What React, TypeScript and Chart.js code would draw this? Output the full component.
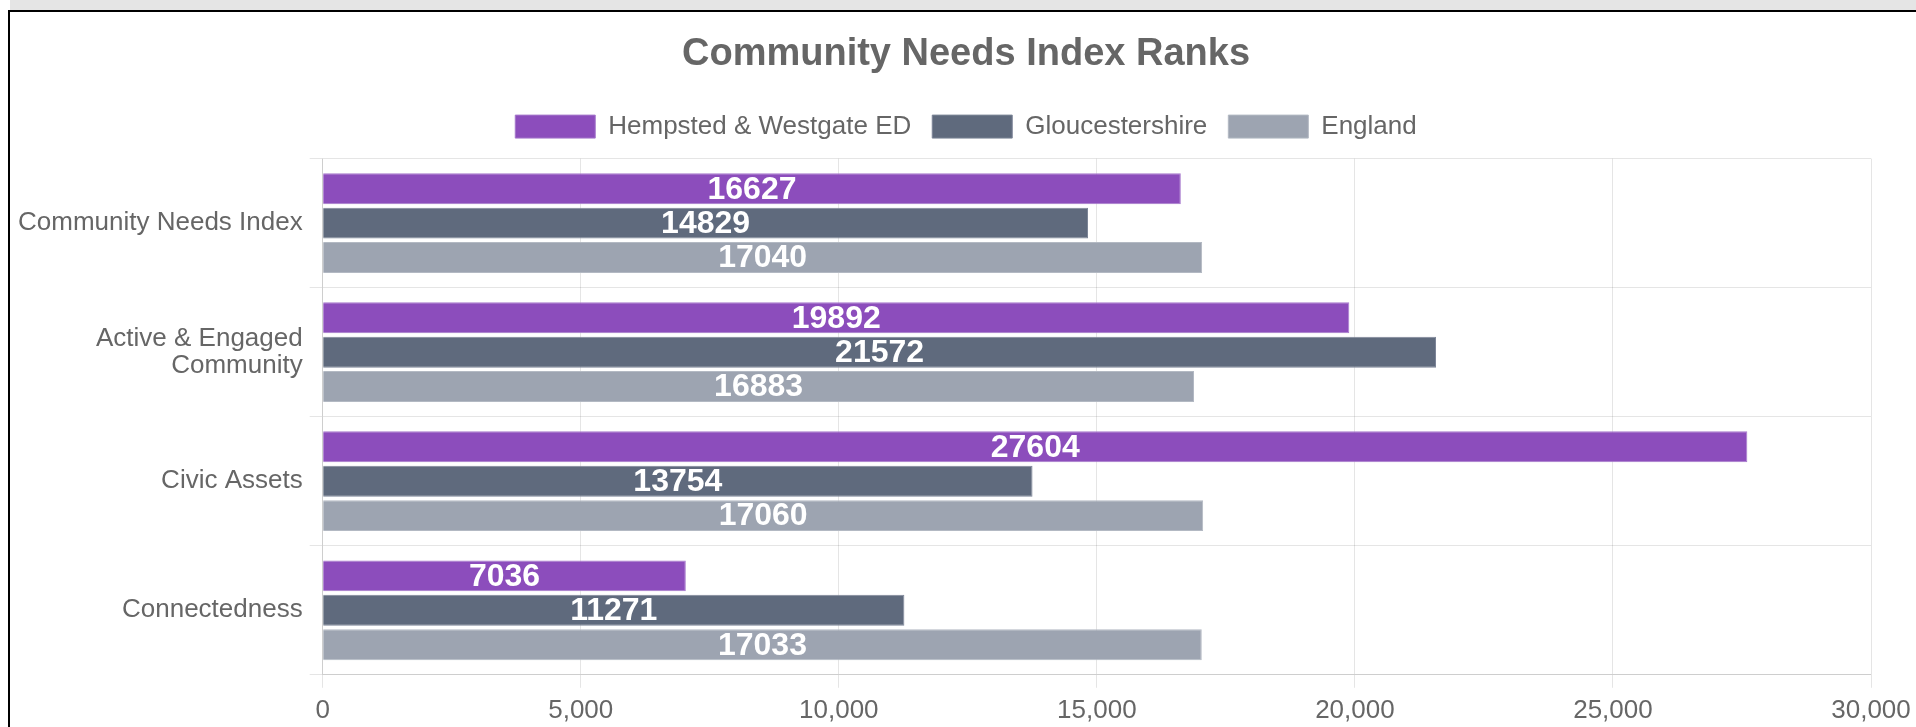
import React, { useEffect, useRef } from "react";
import { Chart, registerables } from "chart.js";

Chart.register(...registerables);

const TITLE = "Community Needs Index Ranks";
const categories: (string | string[])[] = [
  "Community Needs Index",
  ["Active & Engaged", "Community"],
  "Civic Assets",
  "Connectedness",
];
const seriesNames = ["Hempsted & Westgate ED", "Gloucestershire", "England"];
const hempsted = [16627, 19892, 27604, 7036];
const gloucestershire = [14829, 21572, 13754, 11271];
const england = [17040, 16883, 17060, 17033];
const xTickMin = 0;
const xTickMax = 30000;
const xTickStep = 5000;

const FONT = "'Liberation Sans', Arial, Helvetica, sans-serif";

const valueLabels = {
  id: "valueLabels",
  afterDatasetsDraw(chart: any) {
    const ctx = chart.ctx;
    ctx.save();
    ctx.font = `bold 32px ${FONT}`;
    ctx.fillStyle = "#ffffff";
    ctx.textAlign = "center";
    ctx.textBaseline = "middle";
    chart.data.datasets.forEach((ds: any, di: number) => {
      const meta = chart.getDatasetMeta(di);
      if (meta.hidden) return;
      meta.data.forEach((bar: any, i: number) => {
        const cx = (bar.x + bar.base) / 2;
        ctx.fillText(String(ds.data[i]), cx, bar.y + 1);
      });
    });
    ctx.restore();
  },
};

const legendSpacer = {
  id: "legendSpacer",
  beforeInit(chart: any) {
    const lg = chart.legend;
    if (!lg) return;
    const orig = lg.fit;
    lg.fit = function () {
      orig.call(this);
      this.height += 9;
    };
  },
};

export default function App() {
  const ref = useRef<HTMLCanvasElement>(null);
  useEffect(() => {
    if (!ref.current) return;
    const chart = new Chart(ref.current, {
      type: "bar",
      data: {
        labels: categories,
        datasets: [
          {
            label: seriesNames[0],
            data: hempsted,
            backgroundColor: "#8c4dbc",
            borderColor: "#a679cc",
            borderWidth: 1,
          },
          {
            label: seriesNames[1],
            data: gloucestershire,
            backgroundColor: "#5f6a7d",
            borderColor: "#7d8698",
            borderWidth: 1,
          },
          {
            label: seriesNames[2],
            data: england,
            backgroundColor: "#9da4b1",
            borderColor: "#b3b9c3",
            borderWidth: 1,
          },
        ],
      },
      options: {
        indexAxis: "y",
        responsive: false,
        animation: false,
        layout: { padding: { left: 1, right: 0, top: 0, bottom: 0 } },
        plugins: {
          title: {
            display: true,
            text: TITLE,
            color: "#666666",
            font: { family: FONT, size: 38, weight: "bold" },
            padding: { top: 20, bottom: 15 },
          },
          legend: {
            display: true,
            position: "top",
            labels: {
              color: "#666666",
              font: { family: FONT, size: 26 },
              boxWidth: 80,
              boxHeight: 23,
              padding: 21,
            },
          },
          tooltip: { enabled: false },
        },
        scales: {
          x: {
            min: xTickMin,
            max: xTickMax,
            afterFit: (scale: any) => {
              scale.paddingRight = 50;
            },
            ticks: {
              stepSize: xTickStep,
              color: "#666666",
              font: { family: FONT, size: 26 },
              padding: 7,
              callback: (v: any) => Number(v).toLocaleString("en-US"),
            },
            grid: { color: "rgba(0,0,0,0.1)", tickLength: 13 },
            border: { color: "rgba(0,0,0,0.1)" },
          },
          y: {
            ticks: {
              color: "#666666",
              font: { family: FONT, size: 26, lineHeight: 1.05 },
              padding: 7,
            },
            grid: { color: "rgba(0,0,0,0.1)", tickLength: 13 },
            border: { color: "rgba(0,0,0,0.1)" },
          },
        },
      },
      plugins: [valueLabels, legendSpacer],
    } as any);
    return () => chart.destroy();
  }, []);

  return (
    <div
      style={{
        position: "fixed",
        left: 0,
        top: 0,
        width: 1916,
        height: 727,
        overflow: "hidden",
        background: "#ffffff",
      }}
    >
      <div
        style={{
          position: "absolute",
          left: 10,
          top: 0,
          width: 1906,
          height: 10,
          background: "#e5e5e5",
        }}
      />
      <div
        style={{
          position: "absolute",
          left: 8,
          top: 10,
          width: 2000,
          height: 800,
          borderLeft: "2px solid #000",
          borderTop: "2px solid #000",
        }}
      />
      <canvas
        ref={ref}
        width={1911}
        height={721}
        style={{ position: "absolute", left: 10, top: 12, width: 1911, height: 721 }}
      />
    </div>
  );
}
